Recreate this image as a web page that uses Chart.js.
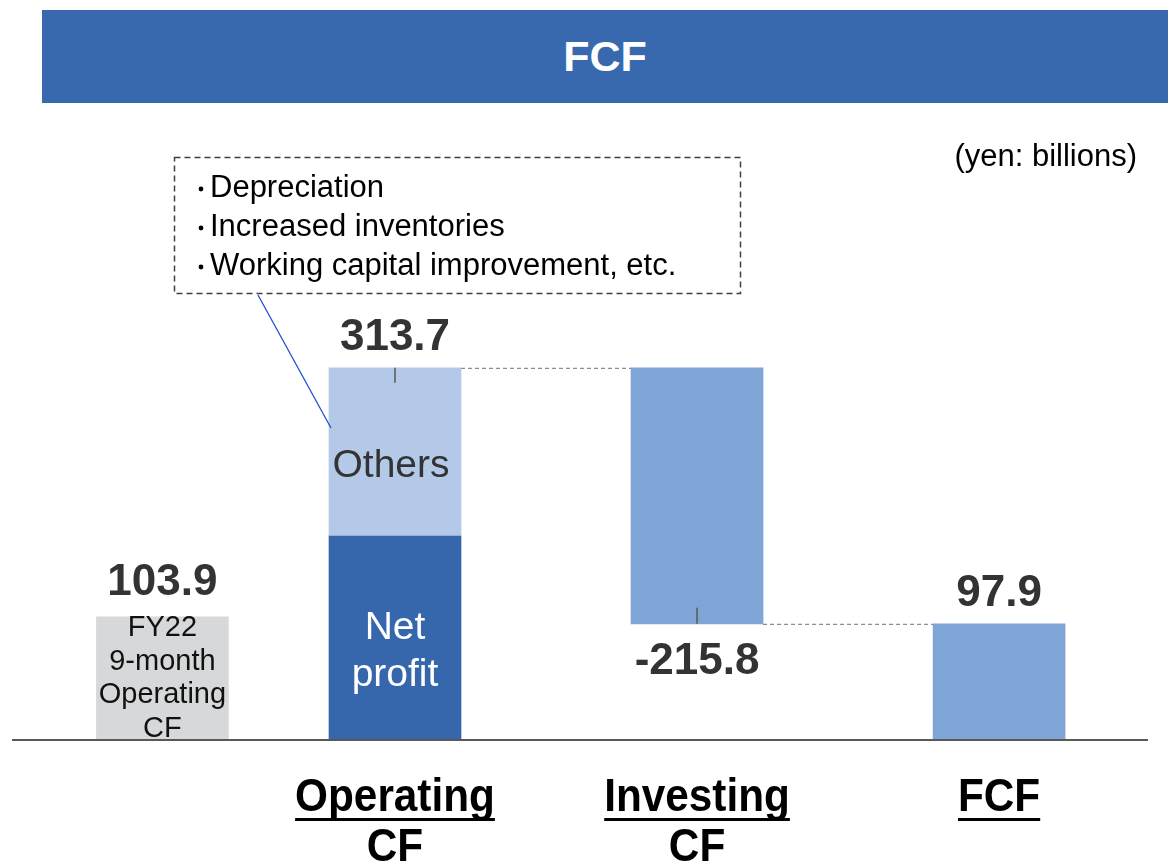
<!DOCTYPE html>
<html>
<head>
<meta charset="utf-8">
<script src="https://cdn.jsdelivr.net/npm/chart.js@4"></script>
<style>
  body { margin: 0; background: #fff; font-family: "Liberation Sans", Arial, sans-serif; }
  #wrap { position: relative; width: 1168px; height: 867px; }
  #banner {
    position: absolute; left: 42px; top: 10px; width: 1126px; height: 93px;
    background: #3869AE; color: #fff; font-weight: bold; font-size: 43px;
    display: flex; align-items: center; justify-content: center; z-index: 2;
  }
  canvas { position: absolute; left: 0; top: 0; }
</style>
</head>
<body>
<div id="wrap">
  <div id="banner">FCF</div>
  <canvas id="fcfChart"></canvas>
</div>
<script>
// data (yen: billions)
const categories = ['FY22 9-month Operating CF', 'Operating CF', 'Investing CF', 'FCF'];
const prevOperatingCF = 103.9;
const netProfit = 172.0;
const otherItems = 141.7;
const operatingCF = 313.7;
const investingCF = -215.8;
const freeCF = 97.9;
const noteLines = ['Depreciation', 'Increased inventories', 'Working capital improvement, etc.'];

// horizontal slot of each category on the linear x scale
const slotX = [0.23, 1, 2, 3];

const ctx = document.getElementById('fcfChart');

const fontName = '"Liberation Sans", Arial, sans-serif';

const overlay = {
  id: 'overlay',
  afterDatasetsDraw(chart) {
    const c = chart.ctx;
    const { y } = chart.scales;
    const bar = (ds, i) => chart.getDatasetMeta(ds).data[i];
    const text = (str, px, py, size, color, weight, align) => {
      c.font = (weight || '') + ' ' + size + 'px ' + fontName;
      c.fillStyle = color;
      c.textAlign = align || 'center';
      c.textBaseline = 'middle';
      c.fillText(str, px, py);
    };
    c.save();

    const gray = bar(0, 0), np = bar(1, 0), oth = bar(2, 0), inv = bar(3, 0), fcf = bar(3, 1);

    // connectors
    c.strokeStyle = '#8c8c8c';
    c.lineWidth = 1.3;
    c.setLineDash([4, 3]);
    c.beginPath();
    c.moveTo(oth.x + oth.width / 2, y.getPixelForValue(operatingCF) + 0.5);
    c.lineTo(inv.x - inv.width / 2, y.getPixelForValue(operatingCF) + 0.5);
    c.moveTo(inv.x + inv.width / 2, y.getPixelForValue(freeCF) + 0.5);
    c.lineTo(fcf.x - fcf.width / 2, y.getPixelForValue(freeCF) + 0.5);
    c.stroke();
    c.setLineDash([]);

    // small leader ticks
    c.strokeStyle = '#595959';
    c.lineWidth = 1.5;
    c.beginPath();
    c.moveTo(oth.x, y.getPixelForValue(operatingCF));
    c.lineTo(oth.x, y.getPixelForValue(operatingCF) + 15);
    c.moveTo(inv.x, y.getPixelForValue(freeCF) - 16);
    c.lineTo(inv.x, y.getPixelForValue(freeCF));
    c.stroke();

    // baseline
    const base = y.getPixelForValue(0);
    c.strokeStyle = '#595959';
    c.lineWidth = 2;
    c.beginPath();
    c.moveTo(chart.chartArea.left, base);
    c.lineTo(chart.chartArea.right, base);
    c.stroke();

    // value labels
    const lbl = '#333333';
    text(prevOperatingCF.toFixed(1), gray.x, gray.y - 34, 44, lbl, 'bold');
    text(operatingCF.toFixed(1), oth.x, oth.y - 30, 44, lbl, 'bold');
    text(investingCF.toFixed(1), inv.x, inv.base + 38, 44, lbl, 'bold');
    text(freeCF.toFixed(1), fcf.x, fcf.y - 30, 44, lbl, 'bold');

    // labels inside bars
    text('Others', oth.x - 4, (oth.y + oth.base) / 2 + 14, 39, '#333333');
    const npMid = (np.y + np.base) / 2 + 13;
    text('Net', np.x, npMid - 23, 39, '#ffffff');
    text('profit', np.x, npMid + 24, 39, '#ffffff');
    categories[0].split(' ').forEach((w, i) => {
      text(w, gray.x, base - 112 + i * 33.5, 29, '#111111');
    });

    // category labels (bold, condensed, underlined)
    [1, 2, 3].forEach(i => {
      const b = i === 1 ? oth : (i === 2 ? inv : fcf);
      const words = categories[i].split(' ');
      const lines = words.length > 1 ? [words.slice(0, -1).join(' '), words[words.length - 1]] : words;
      lines.forEach((ln, j) => {
        c.save();
        c.translate(b.x, 798 + j * 50);
        c.scale(0.9, 1);
        c.font = 'bold 47px ' + fontName;
        c.textAlign = 'center';
        c.textBaseline = 'middle';
        c.fillStyle = '#000';
        c.fillText(ln, 0, 0);
        const w = c.measureText(ln).width;
        c.fillRect(-w / 2, 20, w, 3);
        c.restore();
      });
    });

    // unit note
    text('(yen: billions)', 1137, 157, 31, '#000', '', 'right');

    // annotation box
    c.strokeStyle = '#404040';
    c.lineWidth = 1.5;
    c.setLineDash([6, 4]);
    c.strokeRect(174.5, 157.5, 566, 136);
    c.setLineDash([]);
    noteLines.forEach((ln, i) => {
      const py = 188 + i * 39;
      c.fillStyle = '#000';
      c.beginPath();
      c.arc(201, py + 1, 2.4, 0, Math.PI * 2);
      c.fill();
      text(ln, 210, py, 31, '#000', '', 'left');
    });

    // callout line to "Others"
    c.strokeStyle = '#1f4fd0';
    c.lineWidth = 1.3;
    c.beginPath();
    c.moveTo(258, 295);
    c.lineTo(oth.x - oth.width / 2 + 2, 428);
    c.stroke();

    c.restore();
  }
};

new Chart(ctx, {
  type: 'bar',
  data: {
    datasets: [
      {
        label: categories[0],
        data: [{ x: slotX[0], y: [0, prevOperatingCF] }],
        backgroundColor: '#D7D8DA'
      },
      {
        label: 'Net profit',
        data: [{ x: slotX[1], y: [0, netProfit] }],
        backgroundColor: '#3667AD'
      },
      {
        label: 'Others',
        data: [{ x: slotX[1], y: [netProfit, netProfit + otherItems] }],
        backgroundColor: '#B4C9E8'
      },
      {
        label: 'Flows',
        data: [
          { x: slotX[2], y: [operatingCF + investingCF, operatingCF] },
          { x: slotX[3], y: [0, freeCF] }
        ],
        backgroundColor: '#7FA4D6'
      }
    ]
  },
  options: {
    responsive: true,
    maintainAspectRatio: false,
    animation: false,
    datasets: { bar: { grouped: false, barThickness: 132 } },
    layout: { padding: { top: 265.5, bottom: 127, left: 12, right: 20 } },
    plugins: { legend: { display: false }, tooltip: { enabled: false } },
    scales: {
      x: { type: 'linear', min: -0.268, max: 3.493, offset: false, display: false },
      y: { min: 0, max: 400, display: false }
    }
  },
  plugins: [overlay]
});
</script>
</body>
</html>
